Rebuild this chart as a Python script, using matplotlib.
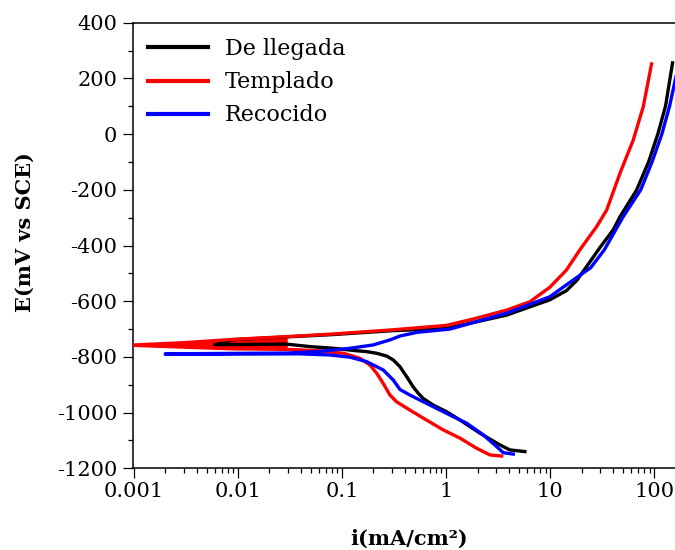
import numpy as np
import matplotlib
matplotlib.use("Agg")
from matplotlib import pyplot as plt
from matplotlib.ticker import FixedLocator, FuncFormatter, LogLocator, MultipleLocator

# polarization curves, each read from cathodic end -> Ecorr -> anodic end
# current density in mA/cm2, potential in mV vs SCE
black_i = [5.7, 4.09, 3.28, 2.11, 1.36, 1.01, 0.75, 0.60, 0.54, 0.48, 0.417, 0.359, 0.31,
           0.268, 0.215, 0.172, 0.138, 0.082, 0.049, 0.029, 0.016, 0.006,
           0.009, 0.03, 0.08, 0.3, 1.0, 3.8, 9.9, 14.3, 18, 22.3, 31, 40.2, 46.7, 67.5, 88, 108,
           128, 149.6]
black_E = [-1140, -1134, -1116, -1074, -1027, -997, -973, -949, -931, -907, -871, -835, -811,
           -797, -787, -781, -778, -769, -763, -754, -755, -756,
           -738, -728, -720, -706, -698, -650, -595, -562, -525, -476, -400, -344, -297, -201, -100, 0,
           100, 256]

red_i = [3.41, 2.63, 1.96, 1.36, 0.935, 0.648, 0.448, 0.333, 0.288, 0.248, 0.215, 0.185, 0.148,
         0.103, 0.06, 0.03, 0.009, 0.003, 0.0009,
         0.003, 0.009, 0.03, 0.08, 0.3, 1.0, 1.82, 3.8, 6.37, 9.9, 14.3, 19.2, 27.9, 34.8,
         46.7, 62.7, 78.2, 94]
red_E = [-1156, -1152, -1128, -1092, -1062, -1027, -991, -961, -937, -895, -859, -829, -805,
         -787, -778, -773, -771, -765, -758,
         -749, -737, -727, -718, -703, -687, -664, -632, -602, -550, -488, -416, -332, -273,
         -141, -21, 98, 252]

blue_i = [4.41, 3.53, 3.05, 2.27, 1.57, 1.09, 0.648, 0.448, 0.359, 0.31, 0.248, 0.172, 0.119,
          0.076, 0.039, 0.002,
          0.002, 0.03, 0.057, 0.119, 0.199, 0.288, 0.36, 0.52, 1.09, 3.8, 9.9, 16.6, 24.4, 33,
          50.1, 74, 95, 118, 140, 160, 178]
blue_E = [-1149, -1144, -1122, -1080, -1038, -1009, -967, -937, -917, -883, -847, -817, -801,
          -793, -789, -791,
          -789, -786, -781, -769, -757, -739, -725, -712, -700, -643, -584, -524, -480, -416,
          -297, -200, -100, 0, 100, 200, 280]

labels = ["De llegada", "Templado", "Recocido"]
colors = ["black", "red", "blue"]

xticks = [0.001, 0.01, 0.1, 1, 10, 100]
xtick_labels = ["0.001", "0.01", "0.1", "1", "10", "100"]

plt.rcParams["font.family"] = ["DejaVu Serif"]
plt.rcParams["axes.unicode_minus"] = False

fig = plt.figure(figsize=(6.75, 5.5), dpi=100)
ax = fig.add_axes([132.7 / 675, (550 - 468.3) / 550, (676 - 132.7) / 675, 445.6 / 550])

# the red scan is noisy around Ecorr and shows up as a solid wedge
ax.fill(red_i[15:22], red_E[15:22], color="red", lw=0, zorder=1)

lw = 2.4
ax.plot(black_i, black_E, color=colors[0], lw=lw, label=labels[0], zorder=2)
ax.plot(red_i, red_E, color=colors[1], lw=lw, label=labels[1], zorder=3)
ax.plot(blue_i, blue_E, color=colors[2], lw=lw, label=labels[2], zorder=4)

ax.set_xscale("log")
ax.set_xlim(10 ** -3.0125, 10 ** 2.208)
ax.set_ylim(-1200, 400)

ax.xaxis.set_major_locator(FixedLocator(xticks))
ax.xaxis.set_major_formatter(FuncFormatter(lambda v, p: xtick_labels[xticks.index(v)] if v in xticks else ""))
ax.xaxis.set_minor_locator(LogLocator(base=10, subs=np.arange(2, 10)))
ax.yaxis.set_major_locator(MultipleLocator(200))
ax.yaxis.set_minor_locator(MultipleLocator(100))
ax.yaxis.set_major_formatter(FuncFormatter(lambda v, p: "%d" % v))

ax.tick_params(which="major", direction="out", length=7, width=0.9, labelsize=15, pad=3)
ax.tick_params(which="minor", direction="out", length=3.3, width=0.9)
ax.tick_params(axis="y", which="major", pad=4)
ax.spines["right"].set_visible(False)
for s in ["left", "top", "bottom"]:
    ax.spines[s].set_linewidth(1.1)

ax.set_xlabel("i(mA/cm²)", fontsize=15, fontweight="bold")
ax.set_ylabel("E(mV vs SCE)", fontsize=15, fontweight="bold")
ax.xaxis.set_label_coords(0.509, -0.135)
ax.yaxis.set_label_coords(-0.18, 0.53)

leg = ax.legend(loc="upper left", frameon=False, fontsize=16, handlelength=2.7,
                handletextpad=0.75, labelspacing=0.5, borderaxespad=0.3)
for h in leg.get_lines():
    h.set_linewidth(3)

fig.savefig("out.png", dpi=100)
